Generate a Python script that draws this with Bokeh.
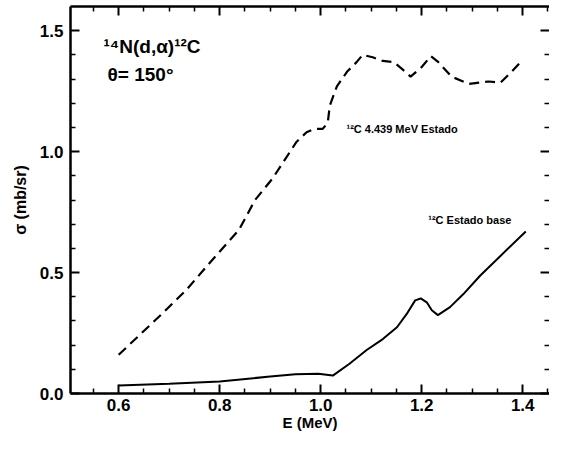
from bokeh.plotting import figure
from bokeh.models import (Range1d, LinearAxis, FixedTicker, PrintfTickFormatter, Label,
                          CustomJSTickFormatter)
from bokeh.embed import file_html
from bokeh.resources import INLINE

# Excited state (12C 4.439 MeV) - dashed
e_exc = [0.60, 0.685, 0.733, 0.784, 0.838, 0.870, 0.905, 0.952, 0.972, 0.988, 1.004, 1.014,
         1.018, 1.032, 1.052, 1.071, 1.083, 1.103, 1.123, 1.145, 1.162, 1.178, 1.20, 1.218,
         1.233, 1.259, 1.293, 1.333, 1.356, 1.378, 1.40]
s_exc = [0.16, 0.328, 0.426, 0.549, 0.676, 0.80, 0.89, 1.04, 1.08, 1.094, 1.094, 1.12,
         1.19, 1.27, 1.33, 1.37, 1.40, 1.39, 1.375, 1.37, 1.34, 1.31, 1.35, 1.395,
         1.37, 1.31, 1.28, 1.29, 1.285, 1.33, 1.38]
# Ground state - solid
e_gs = [0.60, 0.70, 0.80, 0.90, 0.95, 0.995, 1.024, 1.057, 1.091, 1.123, 1.151, 1.17,
        1.187, 1.198, 1.21, 1.22, 1.232, 1.256, 1.282, 1.316, 1.406]
s_gs = [0.033, 0.040, 0.050, 0.070, 0.080, 0.082, 0.074, 0.123, 0.18, 0.225, 0.274, 0.328,
        0.385, 0.393, 0.377, 0.344, 0.324, 0.357, 0.41, 0.488, 0.67]

x_major = [0.6, 0.8, 1.0, 1.2, 1.4]
x_minor = [0.55, 0.65, 0.7, 0.75, 0.85, 0.9, 0.95, 1.05, 1.1, 1.15, 1.25, 1.3, 1.35, 1.45]
y_major = [0.0, 0.5, 1.0, 1.5]
y_minor = [0.1, 0.2, 0.3, 0.4, 0.6, 0.7, 0.8, 0.9, 1.1, 1.2, 1.3, 1.4]

FONT = "Liberation Sans"

p = figure(width=549, height=435, output_backend="svg", toolbar_location=None,
           x_range=Range1d(0.5046, 1.453), y_range=Range1d(0.0, 1.6),
           min_border_left=70, min_border_right=0, min_border_top=6, min_border_bottom=42,
           x_axis_label="E (MeV)", y_axis_label="σ (mb/sr)")
p.outline_line_color = None
p.grid.visible = False
p.background_fill_color = "white"

def style_axis(ax, ticks, minor, show_labels=True, show_line=True):
    ax.ticker = FixedTicker(ticks=ticks, minor_ticks=minor)
    ax.formatter = PrintfTickFormatter(format="%.1f")
    ax.major_tick_in = 9
    ax.major_tick_out = 0
    ax.minor_tick_in = 5
    ax.minor_tick_out = 0
    ax.major_tick_line_width = 2
    ax.minor_tick_line_width = 1.5
    ax.major_tick_line_color = "black"
    ax.minor_tick_line_color = "black"
    ax.axis_line_width = 2.5
    ax.axis_line_color = "black" if show_line else None
    ax.major_label_text_font = FONT
    ax.major_label_text_font_style = "bold"
    ax.major_label_text_font_size = "17px"
    ax.major_label_text_color = "black"
    ax.axis_label_text_font = FONT
    ax.axis_label_text_font_style = "bold"
    ax.axis_label_text_font_size = "16px"
    ax.axis_label_text_color = "black"
    if not show_labels:
        ax.formatter = CustomJSTickFormatter(code="return ''")
        ax.major_label_standoff = 0

style_axis(p.xaxis[0], x_major, x_minor)
style_axis(p.yaxis[0], y_major, y_minor)
p.xaxis[0].major_label_standoff = 5
p.xaxis[0].axis_label_standoff = 0
p.xaxis[0].axis_label_text_font_size = "15px"
p.yaxis[0].major_label_standoff = 7
p.yaxis[0].axis_label_standoff = 8

top = LinearAxis()
style_axis(top, x_major, x_minor, show_labels=False)
p.add_layout(top, "above")
right = LinearAxis()
style_axis(right, y_major, y_minor, show_labels=False, show_line=False)
p.add_layout(right, "right")

p.line(e_exc, s_exc, line_color="black", line_width=2.2, line_dash="10 6")
p.line(e_gs, s_gs, line_color="black", line_width=2)

def lab(x, y, t, size):
    p.add_layout(Label(x=x, y=y, text=t, text_font=FONT, text_font_style="bold",
                       text_font_size=size, text_color="black", text_baseline="alphabetic"))

lab(0.570, 1.434, "¹⁴N(d,α)¹²C", "19px")
lab(0.578, 1.320, "θ= 150°", "19px")
lab(1.051, 1.094, "¹²C 4.439 MeV  Estado", "11px")
lab(1.213, 0.717, "¹²C  Estado base", "11px")

open("out.html", "w").write(file_html(p, INLINE))
